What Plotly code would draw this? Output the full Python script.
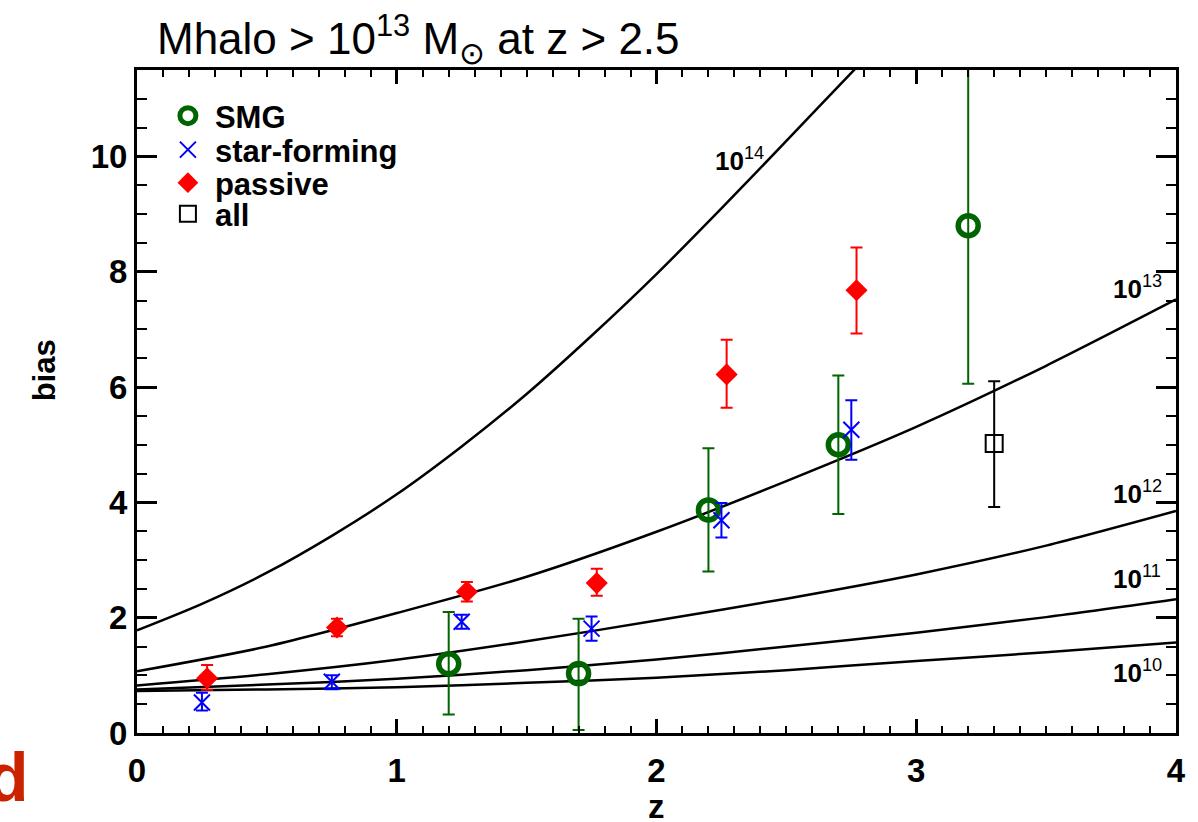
import plotly.graph_objects as go

# ---- data ----
smg_z = [1.2, 1.7, 2.2, 2.7, 3.2]
smg_b = [1.2, 1.03, 3.87, 5.0, 8.8]
smg_hi = [2.1, 1.98, 4.94, 6.2, 12.2]
smg_lo = [0.32, 0.05, 2.80, 3.80, 6.06]

sf_z = [0.25, 0.75, 1.25, 1.75, 2.25, 2.75]
sf_b = [0.53, 0.89, 1.93, 1.81, 3.69, 5.26]
sf_hi = [0.70, 1.00, 2.05, 2.02, 3.99, 5.77]
sf_lo = [0.39, 0.76, 1.81, 1.60, 3.39, 4.74]

pas_z = [0.27, 0.77, 1.27, 1.77, 2.27, 2.77]
pas_b = [0.95, 1.83, 2.45, 2.60, 6.22, 7.68]
pas_hi = [1.18, 1.98, 2.62, 2.85, 6.82, 8.42]
pas_lo = [0.75, 1.68, 2.28, 2.38, 5.64, 6.93]

all_z = [3.3]
all_b = [5.02]
all_hi = [6.10]
all_lo = [3.92]

z14 = [0.0, 0.25, 0.5, 0.75, 1.0, 1.25, 1.5, 1.75, 2.0, 2.25, 2.5, 2.75, 3.0]
b14 = [1.78, 2.24, 2.78, 3.42, 4.14, 4.97, 5.88, 6.89, 7.96, 9.10, 10.27, 11.45, 12.6]
zc = [0.0, 0.5, 1.0, 1.5, 2.0, 2.5, 3.0, 3.5, 4.0]
b13 = [1.07, 1.50, 2.08, 2.71, 3.49, 4.37, 5.31, 6.37, 7.52]
b12 = [0.825, 1.02, 1.27, 1.59, 1.95, 2.33, 2.75, 3.25, 3.85]
b11 = [0.755, 0.84, 0.94, 1.09, 1.275, 1.50, 1.74, 2.01, 2.32]
b10 = [0.73, 0.755, 0.795, 0.87, 0.96, 1.09, 1.25, 1.40, 1.57]

curve_labels = ["14", "13", "12", "11", "10"]

GREEN = "#006400"
BLUE = "#0000ff"
RED = "#ff0000"
FONT = "Liberation Sans"

fig = go.Figure()

for zz, bb in [(z14, b14), (zc, b13), (zc, b12), (zc, b11), (zc, b10)]:
    fig.add_trace(go.Scatter(x=zz, y=bb, mode="lines", showlegend=False,
                             line=dict(color="black", width=2.5, shape="spline", smoothing=0.8),
                             hoverinfo="skip"))


def errs(b, hi, lo):
    return [h - v for v, h in zip(b, hi)], [v - l for v, l in zip(b, lo)]


def add_pts(name, z, b, hi, lo, color, marker, legend):
    up, dn = errs(b, hi, lo)
    fig.add_trace(go.Scatter(
        x=z, y=b, mode="markers", name=name, marker=marker, legend=legend,
        error_y=dict(type="data", symmetric=False, array=up, arrayminus=dn,
                     color=color, thickness=2, width=6)))


add_pts("<b>SMG</b>", smg_z, smg_b, smg_hi, smg_lo, GREEN,
        dict(symbol="circle-open", size=20, color=GREEN, line=dict(width=5.5, color=GREEN)), "legend")
add_pts("<b>star-forming</b>", sf_z, sf_b, sf_hi, sf_lo, BLUE,
        dict(symbol="x-thin-open", size=16, color=BLUE, line=dict(width=2, color=BLUE)), "legend2")
add_pts("<b>passive</b>", pas_z, pas_b, pas_hi, pas_lo, RED,
        dict(symbol="diamond", size=17, color=RED, line=dict(width=0)), "legend3")
add_pts("<b>all</b>", all_z, all_b, all_hi, all_lo, "black",
        dict(symbol="square-open", size=17, color="black", line=dict(width=2, color="black")), "legend4")

annotations = []
label_pos = [(2.32, 9.94), (3.85, 7.72), (3.85, 4.17), (3.85, 2.69), (3.85, 1.07)]
for lab, (lx, ly) in zip(curve_labels, label_pos):
    annotations.append(dict(x=lx, y=ly, xref="x", yref="y", showarrow=False,
                            text="<b>10</b><sup>" + lab + "</sup>",
                            font=dict(family=FONT, size=26, color="black")))

H = 663.0
W = 1043.0
annotations += [
    dict(x=(155 - 137) / W, y=(733 - 73.5) / H, xref="paper", yref="paper",
         xanchor="left", yanchor="bottom", showarrow=False,
         text="Mhalo > 10<sup>13</sup> M<sub>⊙</sub> at z > 2.5",
         font=dict(family=FONT, size=44, color="black")),
    dict(x=(45 - 137) / W, y=(733 - 370) / H, xref="paper", yref="paper",
         xanchor="center", yanchor="middle",
         showarrow=False, textangle=-90, text="<b>bias</b>",
         font=dict(family=FONT, size=31, color="black")),
    dict(x=(658 - 137) / W, y=(733 - 806) / H, xref="paper", yref="paper",
         xanchor="center", yanchor="middle",
         showarrow=False, text="<b>z</b>",
         font=dict(family=FONT, size=33, color="black")),
    dict(x=(31 - 137) / W, y=(733 - 817) / H, xref="paper", yref="paper",
         xanchor="right", yanchor="bottom", showarrow=False, text="<b>d</b>",
         font=dict(family=FONT, size=68, color="#cc2200")),
]

axis_common = dict(showline=True, linewidth=3, linecolor="black", mirror="ticks",
                   ticks="inside", tickcolor="black", showgrid=False, zeroline=False,
                   tickfont=dict(family=FONT, size=33, color="black", weight="bold"))

leg_common = dict(xanchor="left", yanchor="middle", bgcolor="rgba(0,0,0,0)", borderwidth=0,
                  font=dict(family=FONT, size=31, color="black"), itemwidth=44)
row_y = [116, 150, 183, 214]
legx = (161 - 137) / W

fig.update_layout(
    width=1198, height=822,
    margin=dict(l=137, r=18, t=70, b=89),
    plot_bgcolor="white", paper_bgcolor="white",
    xaxis=dict(range=[0, 4], tick0=0, dtick=1, ticklen=14, tickwidth=2.5,
               ticklabelstandoff=6,
               minor=dict(dtick=0.1, ticklen=7, tickwidth=2, ticks="inside",
                          tickcolor="black", showgrid=False),
               **axis_common),
    yaxis=dict(range=[0, 11.5], tick0=0, dtick=2, ticklen=20, tickwidth=2.5,
               minor=dict(dtick=0.5, ticklen=10, tickwidth=2, ticks="inside",
                          tickcolor="black", showgrid=False),
               **axis_common),
    legend=dict(x=legx, y=(733 - row_y[0]) / H, **leg_common),
    legend2=dict(x=legx, y=(733 - row_y[1]) / H, **leg_common),
    legend3=dict(x=legx, y=(733 - row_y[2]) / H, **leg_common),
    legend4=dict(x=legx, y=(733 - row_y[3]) / H, **leg_common),
    annotations=annotations,
)

fig.write_html("out.html")
